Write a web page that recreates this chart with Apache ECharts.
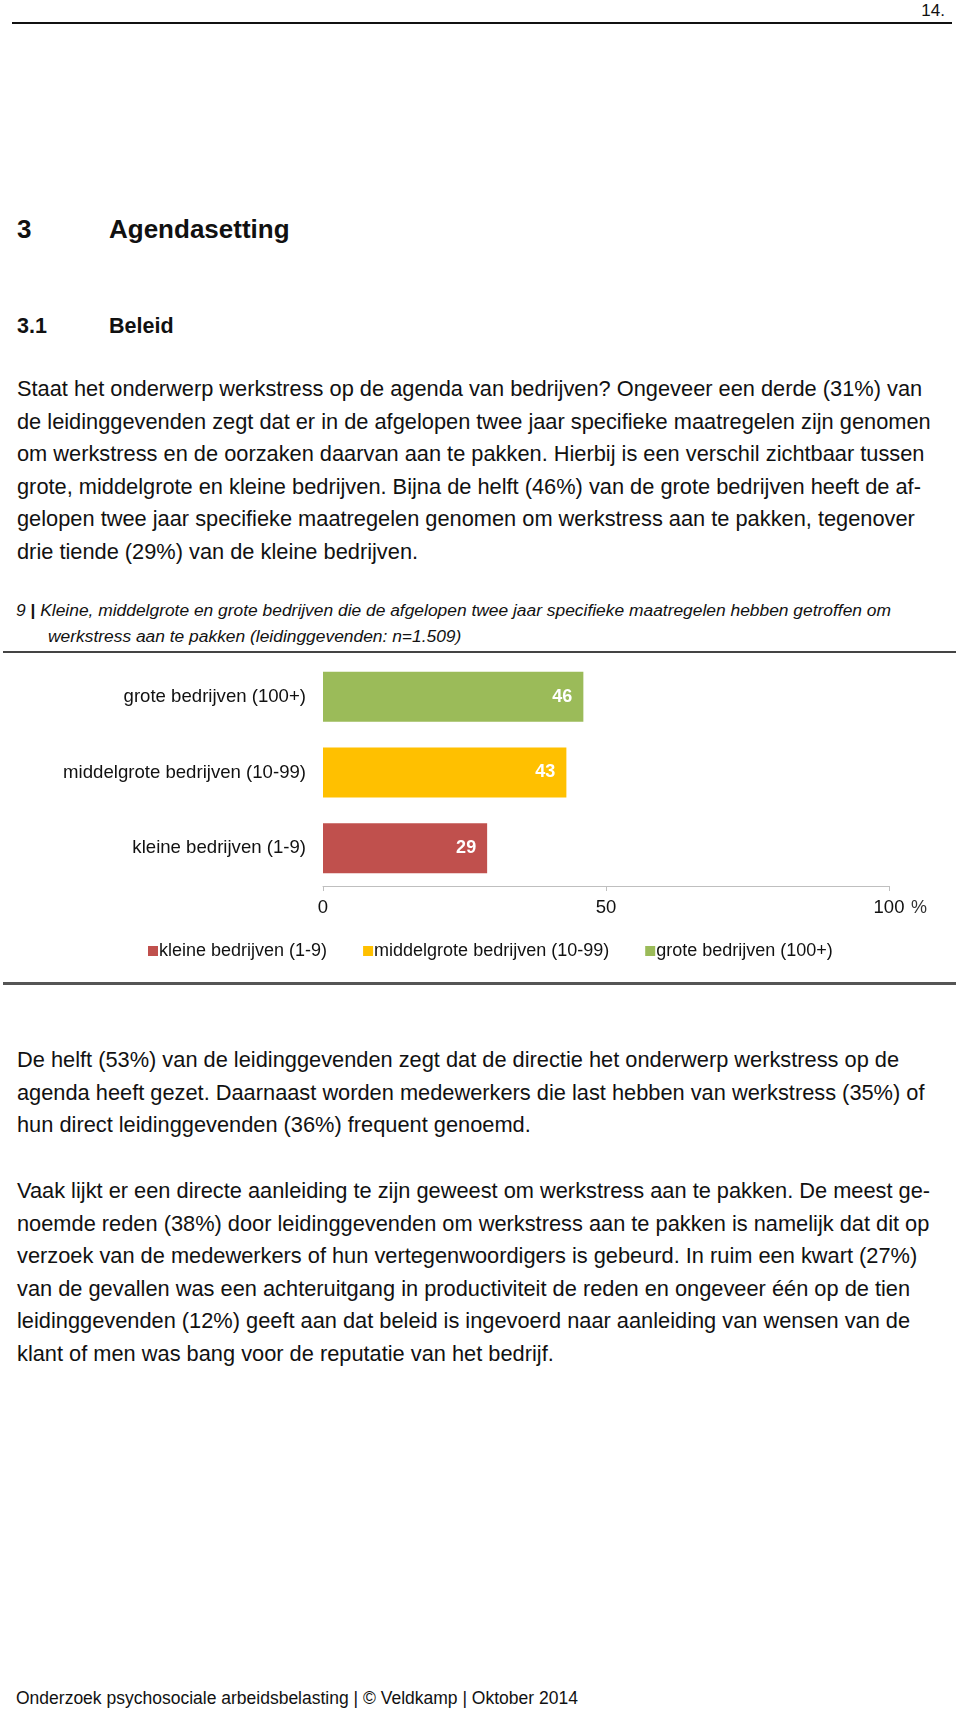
<!DOCTYPE html>
<html>
<head>
<meta charset="utf-8">
<script src="https://cdn.jsdelivr.net/npm/echarts@6/dist/echarts.min.js"></script>
<style>
  html, body { margin: 0; padding: 0; background: #fff; }
  body { width: 960px; height: 1710px; position: relative; overflow: hidden;
         font-family: "Liberation Sans", Arial, sans-serif; color: #111; }
  .abs { position: absolute; white-space: nowrap; }
  .para { left: 17px; font-size: 21.8px; line-height: 32.5px; }
  .rule { position: absolute; height: 2px; }
  #chart { position: absolute; left: 0; top: 655px; width: 960px; height: 320px; }
</style>
</head>
<body>
<div class="abs" style="right:15px; top:2px; font-size:17px; line-height:17px;">14.</div>
<div class="rule" style="left:12px; width:940px; top:22px; background:#111;"></div>

<div class="abs" style="left:17px; top:216px; font-size:26px; line-height:26px; font-weight:bold;">3</div>
<div class="abs" style="left:109px; top:216px; font-size:26px; line-height:26px; font-weight:bold;">Agendasetting</div>
<div class="abs" style="left:17px; top:316px; font-size:21.5px; line-height:21.5px; font-weight:bold;">3.1</div>
<div class="abs" style="left:109px; top:316px; font-size:21.5px; line-height:21.5px; font-weight:bold;">Beleid</div>

<div class="abs para" style="top:373px;">Staat het onderwerp werkstress op de agenda van bedrijven? Ongeveer een derde (31%) van<br>de leidinggevenden zegt dat er in de afgelopen twee jaar specifieke maatregelen zijn genomen<br>om werkstress en de oorzaken daarvan aan te pakken. Hierbij is een verschil zichtbaar tussen<br>grote, middelgrote en kleine bedrijven. Bijna de helft (46%) van de grote bedrijven heeft de af-<br>gelopen twee jaar specifieke maatregelen genomen om werkstress aan te pakken, tegenover<br>drie tiende (29%) van de kleine bedrijven.</div>

<div class="abs" style="left:16px; top:597px; font-size:17.4px; line-height:26px; font-style:italic;">9 <span style="font-style:normal;font-weight:bold;">|</span> Kleine, middelgrote en grote bedrijven die de afgelopen twee jaar specifieke maatregelen hebben getroffen om<br><span style="padding-left:32px;">werkstress aan te pakken (leidinggevenden: n=1.509)</span></div>
<div class="rule" style="left:3px; width:953px; top:651px; background:#444;"></div>

<div id="chart"></div>

<div class="rule" style="left:3px; width:953px; top:982px; height:3px; background:#555;"></div>

<div class="abs para" style="top:1044px;">De helft (53%) van de leidinggevenden zegt dat de directie het onderwerp werkstress op de<br>agenda heeft gezet. Daarnaast worden medewerkers die last hebben van werkstress (35%) of<br>hun direct leidinggevenden (36%) frequent genoemd.</div>

<div class="abs para" style="top:1175px;">Vaak lijkt er een directe aanleiding te zijn geweest om werkstress aan te pakken. De meest ge-<br>noemde reden (38%) door leidinggevenden om werkstress aan te pakken is namelijk dat dit op<br>verzoek van de medewerkers of hun vertegenwoordigers is gebeurd. In ruim een kwart (27%)<br>van de gevallen was een achteruitgang in productiviteit de reden en ongeveer één op de tien<br>leidinggevenden (12%) geeft aan dat beleid is ingevoerd naar aanleiding van wensen van de<br>klant of men was bang voor de reputatie van het bedrijf.</div>

<div class="abs" style="left:16px; top:1690px; font-size:17.5px; line-height:17.5px;">Onderzoek psychosociale arbeidsbelasting | © Veldkamp | Oktober 2014</div>

<script>
// Data
const categories = ['kleine bedrijven (1-9)', 'middelgrote bedrijven (10-99)', 'grote bedrijven (100+)'];
const values = [29, 43, 46];
const seriesColors = ['#C0504D', '#FFC000', '#9BBB59'];
const xTicks = [0, 50, 100];

const font = '"Liberation Sans", Arial, sans-serif';
const chart = echarts.init(document.getElementById('chart'), null, { renderer: 'canvas' });

const series = categories.map((name, i) => ({
  name: name,
  type: 'bar',
  stack: 'all',
  barCategoryGap: '34%',
  itemStyle: { color: seriesColors[i] },
  data: categories.map((c, j) => (j === i ? values[i] : '-')),
  label: {
    show: true,
    position: 'insideRight',
    distance: 11,
    color: '#fff',
    fontWeight: 'bold',
    fontSize: 18,
    fontFamily: font
  }
}));

chart.setOption({
  animation: false,
  textStyle: { fontFamily: font },
  grid: { left: 323, right: 71, top: 4, height: 227 },
  legend: {
    data: categories,
    left: 143,
    top: 282,
    itemWidth: 10,
    itemHeight: 10,
    itemGap: 36,
    icon: 'rect',
    textStyle: { fontSize: 18, color: '#111', fontFamily: font, padding: [0, 0, 0, -4] },
    selectedMode: false
  },
  xAxis: {
    type: 'value',
    min: xTicks[0],
    max: xTicks[xTicks.length - 1],
    interval: xTicks[1] - xTicks[0],
    splitLine: { show: false },
    axisLine: { show: true, lineStyle: { color: '#BFBFBF', width: 1 } },
    axisTick: { show: true, length: 5, lineStyle: { color: '#BFBFBF' } },
    axisLabel: { fontSize: 18.5, color: '#111', margin: 12, fontFamily: font },
    name: '%',
    nameLocation: 'end',
    nameGap: 22,
    nameTextStyle: { fontSize: 18, color: '#333', verticalAlign: 'top', padding: [13, 0, 0, 0], fontFamily: font }
  },
  yAxis: {
    type: 'category',
    data: categories,
    axisLine: { show: false },
    axisTick: { show: false },
    axisLabel: { fontSize: 18.6, color: '#111', margin: 17, fontFamily: font }
  },
  series: series
});
</script>
</body>
</html>
